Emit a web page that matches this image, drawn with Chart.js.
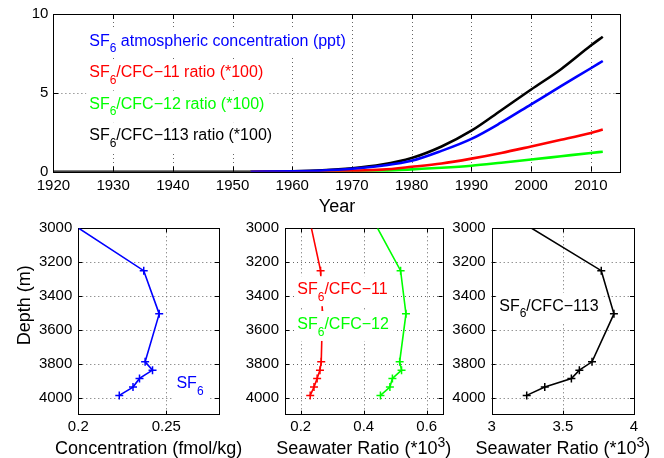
<!DOCTYPE html>
<html>
<head>
<meta charset="utf-8">
<script src="https://cdn.jsdelivr.net/npm/chart.js@4.4.1/dist/chart.umd.min.js"></script>
<style>
  html, body { margin: 0; padding: 0; background: #fff; }
  #wrap { position: relative; width: 664px; height: 458px; }
  #wrap canvas { position: absolute; left: 0; top: 0; }
</style>
</head>
<body>
<div id="wrap">
  <canvas id="topChart" width="664" height="458"></canvas>
  <canvas id="concChart" width="664" height="458"></canvas>
  <canvas id="ratioChart" width="664" height="458"></canvas>
  <canvas id="cfc113Chart" width="664" height="458"></canvas>
</div>
<script>
// ---- data: atmospheric time series ----
const years      = [1920, 1953, 1960, 1965, 1970, 1975, 1980, 1985, 1990, 1995, 2000, 2005, 2010, 2012];
const sf6Atm     = [null, 0,    0.03, 0.08, 0.19, 0.38, 0.69, 1.32, 2.08, 3.12, 4.27, 5.42, 6.56, 7.02];
const sf6Cfc11   = [null, 0,    0.01, 0.02, 0.06, 0.13, 0.31, 0.52, 0.83, 1.19, 1.60, 2.02, 2.46, 2.67];
const sf6Cfc12   = [null, 0,    0.0,  0.01, 0.02, 0.05, 0.15, 0.25, 0.38, 0.57, 0.77, 0.98, 1.19, 1.27];
const sf6Cfc113  = [0,    0,    0.03, 0.09, 0.22, 0.45, 0.87, 1.60, 2.60, 3.90, 5.21, 6.50, 8.00, 8.56];
const yearTicks  = [1920, 1930, 1940, 1950, 1960, 1970, 1980, 1990, 2000, 2010];
const topYTicks  = [0, 5, 10];

// ---- data: seawater profiles ----
const depths       = [3000, 3250, 3505, 3788, 3837, 3886, 3937, 3986];
const sf6Conc      = [0.2003, 0.2372, 0.2460, 0.2380, 0.2422, 0.2348, 0.2311, 0.2233];
const ratioCfc11   = [0.234, 0.263, 0.269, 0.265, 0.261, 0.252, 0.242, 0.230];
const ratioCfc12   = [0.444, 0.517, 0.534, 0.514, 0.520, 0.491, 0.483, 0.453];
const ratioCfc113  = [3.281, 3.770, 3.859, 3.705, 3.616, 3.560, 3.373, 3.246];
const depthTicks   = [3000, 3200, 3400, 3600, 3800, 4000];
const concTicks    = [0.2, 0.25];
const ratioTicks   = [0.2, 0.4, 0.6];
const cfc113Ticks  = [3, 3.5, 4];

const FONT = '"Liberation Sans", Arial, Helvetica, sans-serif';
Chart.defaults.font.family = FONT;
Chart.defaults.font.size = 15;
Chart.defaults.color = '#000';

// text with _x subscripts and ^x superscripts
function parseRich(str) {
    const parts = [];
    let buf = '';
    for (let i = 0; i < str.length; i++) {
        const c = str[i];
        if ((c === '_' || c === '^') && i + 1 < str.length) {
            if (buf) parts.push({ t: buf, k: 0 });
            buf = '';
            parts.push({ t: str[i + 1], k: c === '_' ? 1 : -1 });
            i++;
        } else {
            buf += c;
        }
    }
    if (buf) parts.push({ t: buf, k: 0 });
    return parts;
}

function richFont(p, size) {
    return (p.k ? Math.round(size * 0.78) : size) + 'px ' + FONT;
}

function measureRich(ctx, str, size) {
    let w = 0;
    parseRich(str).forEach(p => { ctx.font = richFont(p, size); w += ctx.measureText(p.t).width; });
    return w;
}

function drawRich(ctx, str, x, y, size, color, align) {
    const w = measureRich(ctx, str, size);
    let cx = align === 'center' ? x - w / 2 : x;
    ctx.fillStyle = color;
    ctx.textAlign = 'left';
    ctx.textBaseline = 'alphabetic';
    parseRich(str).forEach(p => {
        ctx.font = richFont(p, size);
        const dy = p.k === 1 ? size * 0.42 : p.k === -1 ? -size * 0.42 : 0;
        ctx.fillText(p.t, cx, y + dy);
        cx += ctx.measureText(p.t).width;
    });
}

// MATLAB-like dotted grid, box, inward ticks and boxed text labels
const framePlugin = {
    id: 'frame',
    beforeDatasetsDraw(chart, args, opts) {
        const { ctx, chartArea: a, scales } = chart;
        const L = opts.tickLen || 5;
        const xs = scales.x.ticks.map(t => Math.round(scales.x.getPixelForValue(t.value)) + 0.5)
            .filter(px => px > a.left + 1 && px < a.right - 1);
        const ys = scales.y.ticks.map(t => Math.round(scales.y.getPixelForValue(t.value)) + 0.5)
            .filter(py => py > a.top + 1 && py < a.bottom - 1);
        ctx.save();
        // grid
        ctx.strokeStyle = '#666';
        ctx.lineWidth = 1;
        ctx.setLineDash([1, 3]);
        ctx.beginPath();
        xs.forEach(px => { ctx.moveTo(px, a.top); ctx.lineTo(px, a.bottom); });
        ys.forEach(py => { ctx.moveTo(a.left, py); ctx.lineTo(a.right, py); });
        ctx.stroke();
        ctx.setLineDash([]);
        // ticks
        ctx.strokeStyle = '#000';
        ctx.beginPath();
        xs.forEach(px => {
            ctx.moveTo(px, a.bottom); ctx.lineTo(px, a.bottom - L);
            ctx.moveTo(px, a.top); ctx.lineTo(px, a.top + L);
        });
        ys.forEach(py => {
            ctx.moveTo(a.left, py); ctx.lineTo(a.left + L, py);
            ctx.moveTo(a.right, py); ctx.lineTo(a.right - L, py);
        });
        ctx.stroke();
        ctx.strokeRect(Math.round(a.left) + 0.5, Math.round(a.top) + 0.5,
            Math.round(a.right - a.left), Math.round(a.bottom - a.top));
        ctx.restore();
    },
    afterDraw(chart, args, opts) {
        const { ctx, chartArea: a, scales } = chart;
        ctx.save();
        (opts.labels || []).forEach(l => {
            const x = scales.x.getPixelForValue(l.x);
            const y = scales.y.getPixelForValue(l.y);
            const w = measureRich(ctx, l.text, 16);
            ctx.fillStyle = '#fff';
            ctx.fillRect(x - 3, y - 18, w + 8, 30);
            drawRich(ctx, l.text, x, y, 16, l.color, 'left');
        });
        (opts.titles || []).forEach(t => {
            ctx.save();
            if (t.rotate) {
                ctx.translate(a.left + t.dx, a.top + t.dy);
                ctx.rotate(-Math.PI / 2);
                drawRich(ctx, t.text, 0, 0, 18, '#000', 'center');
            } else {
                drawRich(ctx, t.text, (a.left + a.right) / 2, a.bottom + t.dy, 18, '#000', 'center');
            }
            ctx.restore();
        });
        ctx.restore();
    }
};
Chart.register(framePlugin);

const noGrid = { display: false, drawTicks: false };

function setTicks(list) {
    return scale => { scale.ticks = list.map(v => ({ value: v })); };
}

function pairs(xs, ys) {
    return xs.map((x, i) => ({ x: x, y: ys[i] }));
}

// Atmospheric history
new Chart(document.getElementById('topChart'), {
    type: 'line',
    data: {
        datasets: [
            { data: pairs(years, sf6Atm), borderColor: '#0000ff' },
            { data: pairs(years, sf6Cfc11), borderColor: '#ff0000' },
            { data: pairs(years, sf6Cfc12), borderColor: '#00ff00' },
            { data: pairs(years, sf6Cfc113), borderColor: '#000000' }
        ]
    },
    options: {
        responsive: false,
        animation: false,
        events: [],
        datasets: { line: { borderWidth: 2.6, pointRadius: 0, cubicInterpolationMode: 'monotone', spanGaps: false } },
        layout: { padding: { left: 23.4, right: 43.3, top: 11.7, bottom: 261.3 } },
        plugins: {
            legend: { display: false },
            tooltip: { enabled: false },
            frame: {
                tickLen: 5,
                labels: [
                    { text: 'SF_6 atmospheric concentration (ppt)', x: 1926, y: 8.0, color: '#0000ff' },
                    { text: 'SF_6/CFC−11 ratio (*100)', x: 1926, y: 6.0, color: '#ff0000' },
                    { text: 'SF_6/CFC−12 ratio (*100)', x: 1926, y: 4.0, color: '#00ff00' },
                    { text: 'SF_6/CFC−113 ratio (*100)', x: 1926, y: 2.0, color: '#000000' }
                ],
                titles: [{ text: 'Year', dy: 40 }]
            }
        },
        scales: {
            x: {
                type: 'linear', min: 1920, max: 2015,
                afterBuildTicks: setTicks(yearTicks),
                afterFit: s => { s.height = 25; },
                grid: noGrid,
                border: { display: false },
                ticks: { padding: 5, callback: v => String(v) }
            },
            y: {
                min: 0, max: 10,
                afterBuildTicks: setTicks(topYTicks),
                afterFit: s => { s.width = 30; },
                grid: noGrid,
                border: { display: false },
                ticks: { padding: 5, callback: v => String(v) }
            }
        }
    }
});

function profileChart(id, datasets, xMin, xMax, xTicks, area, labels, titles) {
    return new Chart(document.getElementById(id), {
        type: 'scatter',
        data: { datasets: datasets },
        options: {
            responsive: false,
            animation: false,
            events: [],
            datasets: {
                scatter: {
                    showLine: true, borderWidth: 1.6, pointStyle: 'cross',
                    pointRadius: c => (c.dataIndex === 0 ? 0 : 4), pointBorderWidth: 1.5
                }
            },
            layout: { padding: { left: area.left - 40, right: 664 - area.right, top: area.top, bottom: 458 - area.bottom - 20 } },
            plugins: {
                legend: { display: false },
                tooltip: { enabled: false },
                frame: { tickLen: 4, labels: labels, titles: titles }
            },
            scales: {
                x: {
                    type: 'linear', min: xMin, max: xMax,
                    afterBuildTicks: setTicks(xTicks),
                    afterFit: s => { s.height = 20; },
                    grid: noGrid,
                    border: { display: false },
                    ticks: { padding: 3, callback: v => String(v) }
                },
                y: {
                    type: 'linear', min: 3000, max: 4100, reverse: true,
                    afterBuildTicks: setTicks(depthTicks),
                    afterFit: s => { s.width = 40; },
                    grid: noGrid,
                    border: { display: false },
                    ticks: { padding: 6, callback: v => String(v) }
                }
            }
        }
    });
}

profileChart('concChart',
    [{ data: pairs(sf6Conc, depths), borderColor: '#0000ff', backgroundColor: '#0000ff' }],
    0.2, 0.28, concTicks,
    { left: 78.3, right: 219, top: 228.3, bottom: 414.7 },
    [{ text: 'SF_6', x: 0.2558, y: 3943, color: '#0000ff' }],
    [{ text: 'Concentration (fmol/kg)', dy: 39.6 },
     { text: 'Depth (m)', rotate: true, dx: -48, dy: 77 }]);

profileChart('ratioChart',
    [{ data: pairs(ratioCfc11, depths), borderColor: '#ff0000', backgroundColor: '#ff0000' },
     { data: pairs(ratioCfc12, depths), borderColor: '#00ff00', backgroundColor: '#00ff00' }],
    0.15, 0.65, ratioTicks,
    { left: 285, right: 442.5, top: 228.3, bottom: 414.7 },
    [{ text: 'SF_6/CFC−11', x: 0.189, y: 3389, color: '#ff0000' },
     { text: 'SF_6/CFC−12', x: 0.189, y: 3594, color: '#00ff00' }],
    [{ text: 'Seawater Ratio (*10^3)', dy: 39.6 }]);

profileChart('cfc113Chart',
    [{ data: pairs(ratioCfc113, depths), borderColor: '#000000', backgroundColor: '#000000' }],
    3, 4, cfc113Ticks,
    { left: 491.7, right: 634, top: 228.3, bottom: 414.7 },
    [{ text: 'SF_6/CFC−113', x: 3.053, y: 3486, color: '#000000' }],
    [{ text: 'Seawater Ratio (*10^3)', dy: 39.6 }]);
</script>
</body>
</html>
